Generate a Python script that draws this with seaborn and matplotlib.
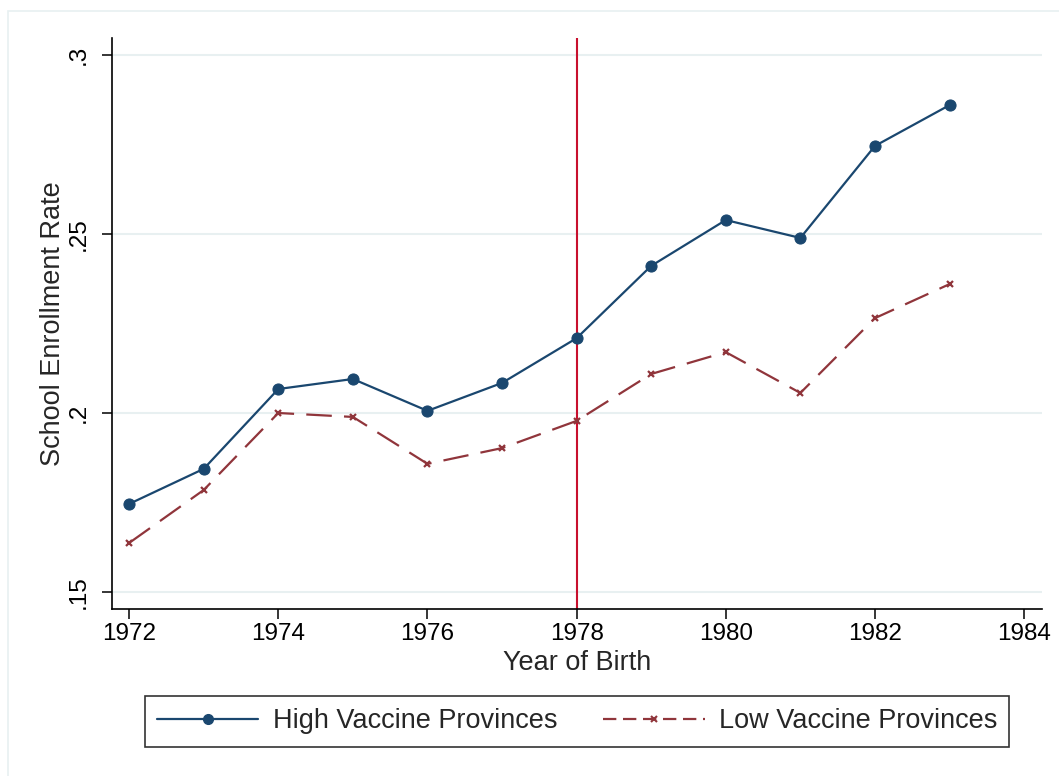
import matplotlib
matplotlib.use("Agg")
import matplotlib.pyplot as plt
import matplotlib.patches as mpatches
from matplotlib.lines import Line2D
import seaborn as sns
import pandas as pd

# Enrollment rate by birth cohort
years = [1972, 1973, 1974, 1975, 1976, 1977, 1978, 1979, 1980, 1981, 1982, 1983]
high_vaccine = [0.1746, 0.1844, 0.2067, 0.2095, 0.2006, 0.2084, 0.2209, 0.2411,
                0.2539, 0.2489, 0.2746, 0.2860]
low_vaccine = [0.1637, 0.1785, 0.2000, 0.1989, 0.1858, 0.1902, 0.1978, 0.2109,
               0.2170, 0.2056, 0.2265, 0.2360]
series_names = ["High Vaccine Provinces", "Low Vaccine Provinces"]
x_ticks = [1972, 1974, 1976, 1978, 1980, 1982, 1984]
y_ticks = [0.15, 0.20, 0.25, 0.30]
y_tick_labels = [".15", ".2", ".25", ".3"]
policy_year = 1978

NAVY = "#1a476f"
MAROON = "#90353b"
RED = "#c8102e"
GRID = "#e8f0f1"
TICK_FS = 17.5
TITLE_FS = 19.5

sns.set_style("white")
plt.rcParams["font.family"] = ["Liberation Sans", "DejaVu Sans"]

df = pd.DataFrame({"year": years, "high": high_vaccine, "low": low_vaccine})

fig = plt.figure(figsize=(10.59, 7.76), dpi=100)
ax = fig.add_axes([112 / 1059, 1 - 609 / 776, (1042 - 112) / 1059, (609 - 38) / 776])

# outer light frame of the graph region
fig.patches.append(mpatches.Rectangle((8 / 1059, -0.1), 1.2, 1 - 11 / 776 + 0.1,
                                      transform=fig.transFigure, fill=False,
                                      edgecolor=GRID, linewidth=1.2, zorder=0))

for yt in y_ticks:
    ax.axhline(yt, color=GRID, linewidth=1.5, zorder=0)

ax.axvline(policy_year, color=RED, linewidth=1.5, zorder=1)

sns.lineplot(data=df, x="year", y="high", ax=ax, color=NAVY, linewidth=1.6,
             marker="o", markersize=8, markeredgecolor=NAVY, zorder=3)
sns.lineplot(data=df, x="year", y="low", ax=ax, color=MAROON, linewidth=1.6,
             marker="x", markersize=5, markeredgewidth=1.6,
             markeredgecolor=MAROON, zorder=3)
ax.lines[-1].set_dashes((11.5, 5.5))

ax.set_xlim(1971.77, 1984.24)
ax.set_ylim(0.14525, 0.30475)
ax.set_xticks(x_ticks)
ax.set_xticklabels([str(v) for v in x_ticks])
ax.set_yticks(y_ticks)
ax.set_yticklabels(y_tick_labels, rotation=90, va="center")

for side in ["top", "right"]:
    ax.spines[side].set_visible(False)
for side in ["left", "bottom"]:
    ax.spines[side].set_color("black")
    ax.spines[side].set_linewidth(1.2)

ax.tick_params(axis="both", direction="out", length=7, width=1.1, color="black",
               labelsize=TICK_FS, labelcolor="black", left=True, bottom=True)
ax.tick_params(axis="y", pad=9)
ax.tick_params(axis="x", pad=3)

ax.set_xlabel("Year of Birth", fontsize=TITLE_FS, labelpad=4)
ax.set_ylabel("School Enrollment Rate", fontsize=TITLE_FS, labelpad=1.5)

handles = [
    Line2D([], [], color=NAVY, linewidth=1.6, marker="o", markersize=7),
    Line2D([], [], color=MAROON, linewidth=1.6, marker="x", markersize=4,
           markeredgewidth=1.5, dashes=(6, 3)),
]
leg = fig.legend(handles, series_names, ncol=2, loc="center",
                 bbox_to_anchor=((142 + 1012) / 2 / 1059, 1 - 721.5 / 776),
                 fontsize=TITLE_FS, frameon=True, fancybox=False, handlelength=3.75,
                 handletextpad=0.52, columnspacing=1.7, borderpad=0.45,
                 borderaxespad=0.0)
leg.get_frame().set_edgecolor("black")
leg.get_frame().set_linewidth(1.2)

fig.savefig("out.png", dpi=100, facecolor="white")
